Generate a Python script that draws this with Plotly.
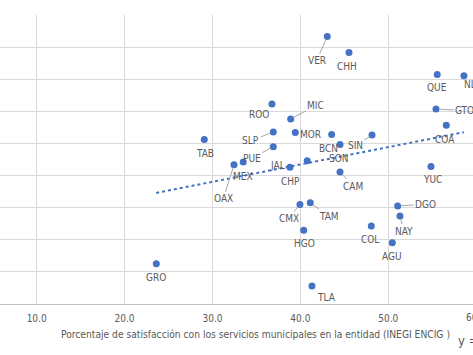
import plotly.graph_objects as go

# ---- data ----
states = ["VER", "CHH", "QUE", "NLE", "ROO", "MIC", "GTO", "COA", "TAB", "SLP",
          "MOR", "BCN", "SIN", "SON", "PUE", "JAL", "CHP", "MEX", "OAX", "CAM",
          "YUC", "CMX", "TAM", "HGO", "COL", "DGO", "NAY", "AGU", "TLA", "GRO"]
satisfaction = [43.06, 45.53, 55.57, 58.61, 36.77, 38.90, 55.43, 56.60, 29.07, 36.92,
                39.42, 43.56, 48.15, 44.51, 36.92, 40.78, 38.82, 33.50, 32.45, 44.51,
                54.86, 39.95, 41.13, 40.38, 48.07, 51.07, 51.33, 50.46, 41.32, 23.61]
yvalue = [83.3, 78.3, 71.5, 71.1, 62.3, 57.6, 60.7, 55.7, 51.2, 53.6,
          53.4, 52.8, 52.6, 49.7, 49.0, 44.6, 42.6, 44.2, 43.4, 41.1,
          42.8, 31.0, 31.5, 23.0, 24.3, 30.5, 27.4, 19.1, 5.6, 12.5]
# label offsets (pixels) and whether a leader line is drawn
label_dx = [-10.6, -1.7, -0.6, 15, -13, 25.3, 29, -1.3, 0.7, -22.3,
            15, -3.4, -16.7, -0.7, -21.6, -30, 0.7, 0, -10.7, 13.3,
            1.3, -11.3, 18.7, 0.3, -1, 28, 4, -0.6, 15, -0.6]
label_dy = [24, 13.6, 12.6, 9, 11, -13.6, 1.4, 14.7, 14, 9,
            2, 13.6, 10.7, 13.6, 11.6, 5, 14.4, 14.4, 34.3, 14,
            13.3, 14.3, 13.3, 13.7, 14, -2, 15, 14.3, 11.3, 13.7]
leader = [1, 0, 0, 0, 0, 1, 1, 0, 0, 1,
          0, 0, 1, 0, 1, 0, 0, 0, 1, 1,
          0, 1, 1, 0, 0, 1, 1, 0, 0, 0]
trend_x = [23.6, 58.6]
trend_y = [34.6, 53.5]
x_ticks = [10, 20, 30, 40, 50]
x_title = "Porcentaje de satisfacción con los servicios municipales en la entidad (INEGI ENCIG )"

FONT = "Liberation Sans Narrow, DejaVu Sans Condensed, Arial Narrow, Roboto, sans-serif"
GRAY = "#595959"
BLUE = "#4472C4"

fig = go.Figure()
fig.add_trace(go.Scatter(x=trend_x, y=trend_y, mode="lines",
                         line=dict(color=BLUE, width=2, dash="dot"),
                         hoverinfo="skip", showlegend=False))
fig.add_trace(go.Scatter(x=satisfaction, y=yvalue, mode="markers",
                         marker=dict(color=BLUE, size=7), text=states,
                         showlegend=False))

for s, x, y, dx, dy, ld in zip(states, satisfaction, yvalue, label_dx, label_dy, leader):
    fig.add_annotation(x=x, y=y, text=s, showarrow=True, ax=dx, ay=dy,
                       arrowhead=0, arrowwidth=1, standoff=3,
                       arrowcolor="#a6a6a6" if ld else "rgba(0,0,0,0)",
                       font=dict(family=FONT, size=10, color=GRAY))

fig.add_annotation(xref="paper", yref="paper", x=0.541, y=-0.104, text=x_title,
                   showarrow=False, xanchor="center", yanchor="middle",
                   font=dict(family=FONT, size=10.2, color=GRAY))
fig.add_annotation(xref="paper", yref="paper", x=0.9645, y=-0.125, text="y = 0.545x + 21.7",
                   showarrow=False, xanchor="left", yanchor="middle",
                   font=dict(family=FONT, size=13, color=GRAY))
# tick label of 60.0, cut at the right edge as in the reference
fig.add_annotation(xref="paper", yref="paper", x=1.0063, y=-0.047, text="60.0",
                   showarrow=False, xanchor="center", yanchor="middle",
                   font=dict(family=FONT, size=10, color=GRAY))

fig.update_xaxes(range=[5.83, 59.64], tickvals=x_ticks, tickformat=".1f",
                 showgrid=True, gridcolor="#d9d9d9", gridwidth=1,
                 showline=True, linecolor="#bfbfbf", linewidth=1,
                 zeroline=False, ticks="", ticklabelstandoff=5,
                 tickfont=dict(family=FONT, size=10, color=GRAY))
fig.update_yaxes(range=[0, 90], dtick=10, showgrid=True, gridcolor="#d9d9d9",
                 gridwidth=1, zeroline=False, showticklabels=False, ticks="")

fig.update_layout(width=473, height=355, margin=dict(l=0, r=0, t=15, b=51),
                  plot_bgcolor="white", paper_bgcolor="white",
                  font=dict(family=FONT, color=GRAY))

fig.write_html("out.html", config={"displayModeBar": False},
               post_script="document.body.style.margin='0';document.body.style.overflow='hidden';")
